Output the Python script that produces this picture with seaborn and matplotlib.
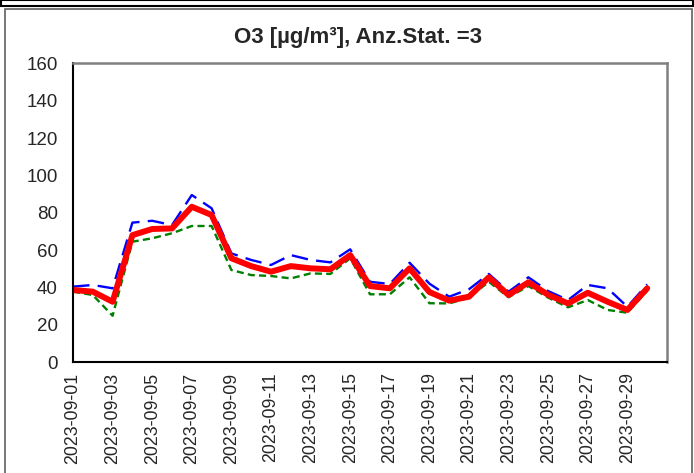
import matplotlib
matplotlib.use("Agg")
import matplotlib.pyplot as plt
import seaborn as sns
import pandas as pd
from matplotlib.patches import Rectangle

dates = [f"2023-09-{d:02d}" for d in range(1, 31)]
mean_vals = [38.6, 37.7, 32.3, 68.0, 71.3, 71.6, 83.2, 78.8, 55.6, 51.4,
             48.4, 51.4, 50.2, 49.7, 57.3, 40.7, 39.5, 50.2, 37.5, 32.9,
             35.0, 45.4, 35.9, 42.7, 36.0, 31.4, 37.1, 32.3, 27.9, 39.5]
max_vals = [40.4, 41.3, 39.5, 74.7, 75.7, 73.4, 89.5, 82.4, 58.2, 54.7,
            52.0, 57.3, 54.7, 53.4, 60.4, 43.0, 41.8, 53.2, 42.0, 35.0,
            39.0, 47.2, 37.7, 45.4, 38.0, 33.2, 41.3, 39.5, 29.6, 41.6]
min_vals = [37.7, 35.9, 24.8, 64.5, 66.3, 69.0, 72.9, 72.9, 49.3, 46.6,
            46.1, 44.8, 47.5, 47.2, 55.6, 36.3, 36.3, 45.4, 31.5, 31.4,
            34.5, 43.0, 34.7, 40.7, 34.5, 29.3, 33.2, 27.9, 26.4, 38.2]
yticks = [0, 20, 40, 60, 80, 100, 120, 140, 160]
title = "O3 [µg/m³], Anz.Stat. =3"

sns.set_style("white")
plt.rcParams['font.family'] = ['Liberation Sans', 'DejaVu Sans']

df = pd.DataFrame({"idx": range(len(dates)), "mean": mean_vals,
                   "max": max_vals, "min": min_vals})

fig = plt.figure(figsize=(6.94, 4.73), dpi=100)
ax = fig.add_axes([73/694, 1-362/473, (667-73)/694, (362-63.5)/473])

sns.lineplot(data=df, x="idx", y="min", ax=ax, color="#008000", lw=1.7,
             linestyle=(0, (3, 1.8)))
sns.lineplot(data=df, x="idx", y="max", ax=ax, color="#0000FF", lw=1.7,
             linestyle=(0, (7, 3.5)))
sns.lineplot(data=df, x="idx", y="mean", ax=ax, color="#FF0000", lw=4.3)

ax.set_xlim(0, len(dates))
ax.set_ylim(0, 160)
ax.set_yticks(yticks)
ax.set_yticklabels([str(v) for v in yticks], fontsize=13.5)
ax.set_xticks(range(len(dates) + 1))
ax.set_xticklabels([dates[i] if (i < len(dates) and i % 2 == 0) else ""
                    for i in range(len(dates) + 1)], rotation=90, fontsize=12.8)
ax.set_xlabel("")
ax.set_ylabel("")
ax.tick_params(axis="y", direction="out", length=5, width=1.2, color="black", pad=6)
ax.tick_params(axis="x", direction="inout", length=9, width=1.2, color="black", pad=3)
for s in ["left", "bottom"]:
    ax.spines[s].set_color("black")
    ax.spines[s].set_linewidth(1.5)
for s in ["top", "right"]:
    ax.spines[s].set_color("#808080")
    ax.spines[s].set_linewidth(1.8)

fig.text(358/694, 1-37/473, title, ha="center", va="center",
         fontsize=16, fontweight="bold")

# outer frames
fig.add_artist(Rectangle((0.5/694, 1-6/473), 692.5/694, 5.5/473,
                         transform=fig.transFigure, fill=False,
                         edgecolor="black", lw=1.5))
fig.add_artist(Rectangle((4.5/694, -0.05), 687/694, 1.05 - 9/473,
                         transform=fig.transFigure, fill=False,
                         edgecolor="#606060", lw=1.2))

fig.savefig("out.png", dpi=100)
